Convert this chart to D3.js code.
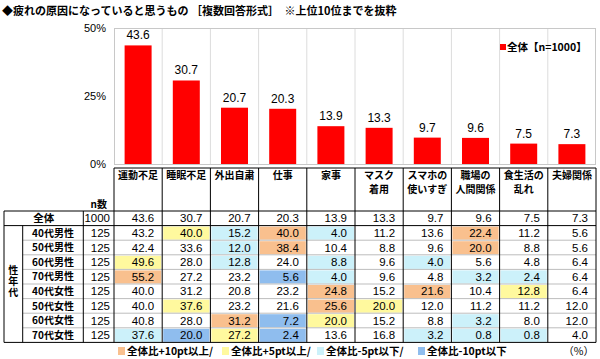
<!DOCTYPE html>
<html>
<head>
<meta charset="utf-8">
<script src="https://cdn.jsdelivr.net/npm/d3@7"></script>
<style>
body { margin: 0; background: #fff; }
svg { display: block; }
</style>
</head>
<body>
<script>
var categories = ["運動不足", "睡眠不足", "外出自粛", "仕事", "家事", "マスク\n着用", "スマホの\n使いすぎ", "職場の\n人間関係", "食生活の\n乱れ", "夫婦関係"];
var totalValues = [43.6, 30.7, 20.7, 20.3, 13.9, 13.3, 9.7, 9.6, 7.5, 7.3];
var totalN = 1000;
var yTicks = [0, 25, 50];
var groupLabels = ["40代男性", "50代男性", "60代男性", "70代男性", "40代女性", "50代女性", "60代女性", "70代女性"];
var groupN = [125, 125, 125, 125, 125, 125, 125, 125];
var groupValues = [
  [43.2, 40.0, 15.2, 40.0, 4.0, 11.2, 13.6, 22.4, 11.2, 5.6],
  [42.4, 33.6, 12.0, 38.4, 10.4, 8.8, 9.6, 20.0, 8.8, 5.6],
  [49.6, 28.0, 12.8, 24.0, 8.8, 9.6, 4.0, 5.6, 4.8, 6.4],
  [55.2, 27.2, 23.2, 5.6, 4.0, 9.6, 4.8, 3.2, 2.4, 6.4],
  [40.0, 31.2, 20.8, 23.2, 24.8, 15.2, 21.6, 10.4, 12.8, 6.4],
  [40.0, 37.6, 23.2, 21.6, 25.6, 20.0, 12.0, 11.2, 11.2, 12.0],
  [40.8, 28.0, 31.2, 7.2, 20.0, 15.2, 8.8, 3.2, 8.0, 12.0],
  [37.6, 20.0, 27.2, 2.4, 13.6, 16.8, 3.2, 0.8, 0.8, 4.0]
];
var legendLabels = ["全体比+10pt以上/", "全体比+5pt以上/", "全体比-5pt以下/", "全体比-10pt以下"];

var jp = "'Noto Sans CJK JP', sans-serif";
var num = "'Liberation Sans', Arial, sans-serif";
var colOrange = "#f9c08e", colYellow = "#fff99e", colCyan = "#ccf1fa", colBlue = "#8fbdee";
var legendColors = [colOrange, colYellow, colCyan, colBlue];

function cellColor(v, t) {
  var d = Math.round((v - t) * 10) / 10;
  if (d >= 10) return colOrange;
  if (d >= 5) return colYellow;
  if (d <= -10) return colBlue;
  if (d <= -5) return colCyan;
  return null;
}

var svg = d3.select("body").append("svg").attr("width", 600).attr("height", 359);

var left = 114, right = 596, plotTop = 28, plotBottom = 164;
var x = d3.scaleBand().domain(d3.range(categories.length)).range([left, right]);
var xBar = d3.scaleBand().domain(d3.range(categories.length)).range([left, right]).paddingInner(0.44).paddingOuter(0.22);
var y = d3.scaleLinear().domain([0, 50]).range([plotBottom, plotTop]);

// title
svg.append("text").attr("x", 2).attr("y", 15)
  .attr("font-family", jp).attr("font-weight", "bold").attr("font-size", 11)
  .text("◆疲れの原因になっていると思うもの ［複数回答形式］　※上位10位までを抜粋");

// plot box + column lines
svg.selectAll("line.vgrid").data(d3.range(1, categories.length)).enter().append("line")
  .attr("x1", function(d){ return x(d); }).attr("x2", function(d){ return x(d); })
  .attr("y1", plotTop).attr("y2", plotBottom)
  .attr("stroke", "#dcdcdc");
svg.append("rect").attr("x", left + 0.5).attr("y", plotTop + 0.5)
  .attr("width", right - left - 1).attr("height", plotBottom - plotTop)
  .attr("fill", "none").attr("stroke", "#c8c8c8");

// y axis
var yAxis = svg.append("g").attr("transform", "translate(" + (left - 8) + ",0)")
  .call(d3.axisLeft(y).tickValues(yTicks).tickSize(0).tickFormat(function(d){ return d + "%"; }));
yAxis.select(".domain").remove();
yAxis.selectAll("text").attr("font-family", num).attr("font-size", 11).attr("fill", "#000").attr("x", 0);

// bars
svg.selectAll("rect.bar").data(totalValues).enter().append("rect")
  .attr("class", "bar")
  .attr("x", function(d, i){ return xBar(i); })
  .attr("width", xBar.bandwidth())
  .attr("y", function(d){ return y(d); })
  .attr("height", function(d){ return plotBottom - y(d); })
  .attr("fill", "#ff0000");

svg.selectAll("text.barlabel").data(totalValues).enter().append("text")
  .attr("x", function(d, i){ return x(i) + x.bandwidth() / 2; })
  .attr("y", function(d){ return y(d) - 6; })
  .attr("text-anchor", "middle")
  .attr("font-family", num).attr("font-size", 12)
  .text(function(d){ return d.toFixed(1); });

// legend (top)
svg.append("rect").attr("x", 500).attr("y", 44).attr("width", 6).attr("height", 6).attr("fill", "#ff0000");
svg.append("text").attr("x", 507).attr("y", 51)
  .attr("font-family", jp).attr("font-weight", "bold").attr("font-size", 10.5)
  .text("全体【n=" + totalN + "】");

// table
var tblTop = 211, rowH = 14.6, hdrTop = 168;
var c0 = 4, c1 = 22.7, c2 = 83.3;
var nRows = groupLabels.length + 1;
var tblBottom = tblTop + nRows * rowH;
var g = svg.append("g");

// cell fills
groupValues.forEach(function(row, r) {
  row.forEach(function(v, j) {
    var c = cellColor(v, totalValues[j]);
    if (c) {
      g.append("rect")
        .attr("x", x(j) + 1).attr("y", tblTop + (r + 1) * rowH + 1)
        .attr("width", x.bandwidth() - 2).attr("height", rowH - 1.5)
        .attr("fill", c);
    }
  });
});

// grid lines: inner horizontal
d3.range(2, nRows).forEach(function(r) {
  g.append("line").attr("x1", c1).attr("x2", right)
    .attr("y1", tblTop + r * rowH).attr("y2", tblTop + r * rowH)
    .attr("stroke", "#bdbdbd");
});
g.append("line").attr("x1", c0).attr("x2", right)
  .attr("y1", tblTop + rowH).attr("y2", tblTop + rowH).attr("stroke", "#000");
g.append("line").attr("x1", c0).attr("x2", right)
  .attr("y1", tblTop).attr("y2", tblTop).attr("stroke", "#000");
g.append("line").attr("x1", c0).attr("x2", right)
  .attr("y1", tblBottom).attr("y2", tblBottom).attr("stroke", "#000");
g.append("line").attr("x1", left).attr("x2", right)
  .attr("y1", hdrTop).attr("y2", hdrTop).attr("stroke", "#000");
// vertical
g.append("line").attr("x1", c0).attr("x2", c0).attr("y1", tblTop).attr("y2", tblBottom).attr("stroke", "#000");
g.append("line").attr("x1", c1).attr("x2", c1).attr("y1", tblTop + rowH).attr("y2", tblBottom).attr("stroke", "#000");
g.append("line").attr("x1", c2).attr("x2", c2).attr("y1", tblTop).attr("y2", tblBottom).attr("stroke", "#000");
d3.range(0, categories.length + 1).forEach(function(j) {
  var xx = j < categories.length ? x(j) : right;
  g.append("line").attr("x1", xx).attr("x2", xx).attr("y1", hdrTop).attr("y2", tblBottom).attr("stroke", "#000");
});

// header labels
categories.forEach(function(c, j) {
  var t = g.append("text").attr("text-anchor", "middle")
    .attr("font-family", jp).attr("font-weight", "bold").attr("font-size", 10);
  c.split("\n").forEach(function(line, k) {
    t.append("tspan").attr("x", x(j) + x.bandwidth() / 2).attr("y", 179 + k * 13.5).text(line);
  });
});
g.append("text").attr("x", 107).attr("y", 208).attr("text-anchor", "end")
  .attr("font-family", jp).attr("font-weight", "bold").attr("font-size", 10).text("n数");

// row labels
function rowY(r) { return tblTop + r * rowH + rowH / 2; }
g.append("text").attr("x", (c0 + c2) / 2).attr("y", rowY(0)).attr("dy", "0.36em")
  .attr("text-anchor", "middle").attr("font-family", jp).attr("font-weight", "bold").attr("font-size", 10.5)
  .text("全体");
groupLabels.forEach(function(l, r) {
  g.append("text").attr("x", (c1 + c2) / 2).attr("y", rowY(r + 1)).attr("dy", "0.36em")
    .attr("text-anchor", "middle").attr("font-family", jp).attr("font-weight", "bold").attr("font-size", 10)
    .text(l);
});
// vertical group title
g.append("text")
  .attr("transform", "translate(" + ((c0 + c1) / 2) + ",282)")
  .attr("text-anchor", "middle")
  .style("writing-mode", "vertical-rl")
  .attr("letter-spacing", 1)
  .attr("font-family", jp).attr("font-weight", "bold").attr("font-size", 10)
  .text("性年代");

// n column and values
var nAll = [totalN].concat(groupN);
var rowsAll = [totalValues].concat(groupValues);
nAll.forEach(function(n, r) {
  g.append("text").attr("x", left - 4).attr("y", rowY(r)).attr("dy", "0.36em")
    .attr("text-anchor", "end").attr("font-family", num).attr("font-size", 11.5).text(n);
});
rowsAll.forEach(function(row, r) {
  row.forEach(function(v, j) {
    g.append("text").attr("x", x(j) + x.bandwidth() - 8).attr("y", rowY(r)).attr("dy", "0.36em")
      .attr("text-anchor", "end").attr("font-family", num).attr("font-size", 11.5)
      .text(v.toFixed(1));
  });
});

// bottom legend
var legX = [118, 222, 317, 418];
legendLabels.forEach(function(l, k) {
  svg.append("rect").attr("x", legX[k]).attr("y", 347).attr("width", 7).attr("height", 8).attr("fill", legendColors[k]);
  svg.append("text").attr("x", legX[k] + 9).attr("y", 355)
    .attr("font-family", jp).attr("font-weight", "bold").attr("font-size", 10.5).text(l);
});
svg.append("text").attr("x", 594).attr("y", 355).attr("text-anchor", "end")
  .attr("font-family", jp).attr("font-size", 10.5).text("（%）");
</script>
</body>
</html>
